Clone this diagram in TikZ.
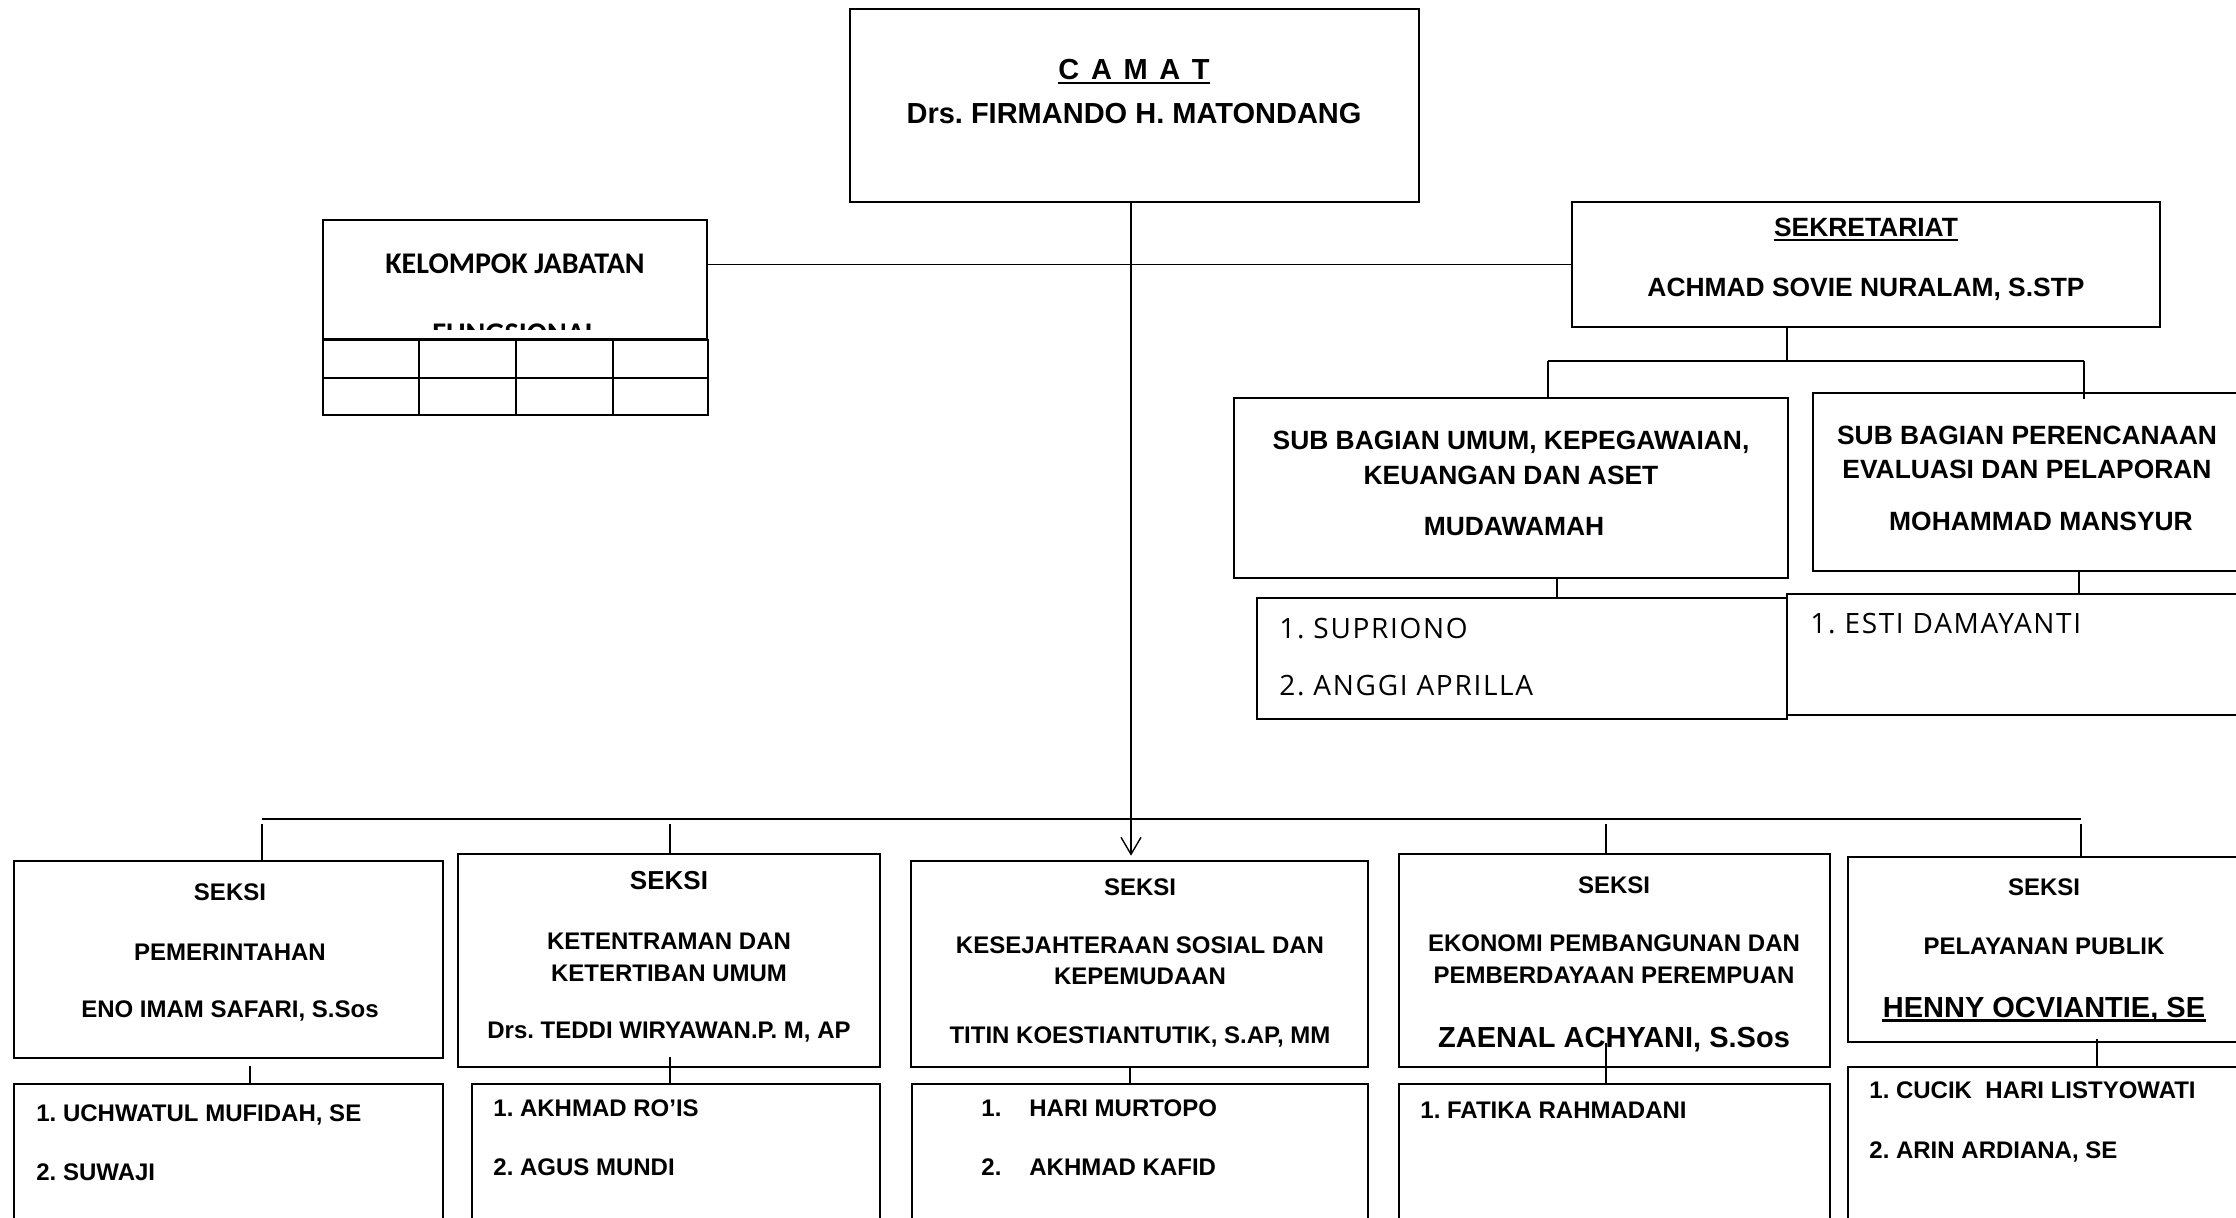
\documentclass[tikz,border=0pt]{standalone}
\usepackage{fontspec}
\usetikzlibrary{calc}
\usetikzlibrary{arrows.meta}
\newfontfamily\arial{Liberation Sans}
\newfontfamily\calib{Carlito}
\newfontfamily\opsans[LetterSpace=6]{Open Sans}
\newcommand{\fsz}[1]{\fontsize{#1}{#1}\selectfont}
\frenchspacing

\begin{document}
\begin{tikzpicture}[x=0.5pt, y=-0.5pt,
  box/.style={draw, line width=1.35pt, inner sep=0pt},
  con/.style={line width=0.7pt},
  lbl/.style={inner sep=0pt, anchor=base, font=\arial\bfseries\fsz{12pt}},
  lft/.style={lbl, anchor=base west},
  big/.style={font=\arial\bfseries\fsz{14.5pt}},
  sub/.style={font=\arial\bfseries\fsz{13.2pt}},
  nama/.style={inner sep=0pt, anchor=base west, font=\opsans\fsz{14pt}}]
\useasboundingbox (0,0) rectangle (2236,1217);

\foreach \n/\xa/\ya/\xb/\yb in {camat/850/9/1419/202, kel/323/220/707/339, sek/1572/202/2160/327,
  umum/1234/398/1788/578, ren/1813/393/2260/571, st1/1257/598/1787/719, st2/1787/594/2260/715,
  sk1/14/861/443/1058, sk2/458/854/880/1067, sk3/911/861/1368/1067, sk4/1399/854/1830/1067, sk5/1848/857/2260/1042,
  s1/14/1084/443/1240, s2/472/1084/880/1240, s3/912/1084/1368/1240, s4/1399/1084/1830/1240, s5/1848/1067/2260/1240}
  \node[box, minimum width={(\xb-\xa)*0.5pt}, minimum height={(\yb-\ya)*0.5pt}] (\n) at ({(\xa+\xb)/2},{(\ya+\yb)/2}) {};

\draw[line width=1.35pt] (323,340) rectangle (708,415);
\draw[line width=1.35pt] (323,378) -- (708,378);
\foreach \c in {419,516,613}
  \draw[line width=1.35pt] (\c,340) -- (\c,415);

\node[lbl, big] (tcam) at (1134,79) {C\kern5.8pt A\kern5.8pt M\kern5.8pt A\kern5.8pt T};
\draw[line width=1pt] ([yshift=-2pt]tcam.base west) -- ([yshift=-2pt]tcam.base east);
\node[lbl, big] (tcam2) at (1134,123) {Drs. FIRMANDO H. MATONDANG};

\node[lbl, font=\calib\bfseries\fsz{15pt}] (tkel) at (515,273) {KELOMPOK JABATAN};
\begin{scope}
\clip (323,220) rectangle (707,329);
\node[lbl, font=\calib\bfseries\fsz{15pt}] (tfung) at (515,343) {FUNGSIONAL};
\end{scope}
\draw[con] (kel.east |- sek.west) -- (sek.west);

\node[lbl, sub] (tsek) at (1866,236.5) {SEKRETARIAT};
\draw[line width=1pt] ([yshift=-1.5pt]tsek.base west) -- ([yshift=-1.5pt]tsek.base east);
\node[lbl, sub] (tsek2) at (1866,296.5) {ACHMAD SOVIE NURALAM, S.STP};

\coordinate (sb) at (1787,361);
\coordinate (sbl) at (1548,361);
\coordinate (sbr) at (2084,361);
\draw[con] (sek.south -| sb) -- (sb);
\draw[con] (sbl) -- (sbr);
\draw[con] (sbl) -- (sbl |- umum.north);
\draw[con] (sbr) -- ($(sbr |- ren.north)+(0,7)$);

\node[lbl, sub] (tum1) at (1511,449.5) {SUB BAGIAN UMUM, KEPEGAWAIAN,};
\node[lbl, sub] (tum2) at (1511,484.5) {KEUANGAN DAN ASET};
\node[lbl, sub] (tum3) at (1514,535.5) {MUDAWAMAH};
\node[lbl, sub] (tren1) at (2027,444.5) {SUB BAGIAN PERENCANAAN};
\node[lbl, sub] (tren2) at (2027,478.5) {EVALUASI DAN PELAPORAN};
\node[lbl, sub] (tren3) at (2041,530.5) {MOHAMMAD MANSYUR};

\coordinate (d1) at (1557,0);
\coordinate (d2) at (2079,0);
\draw[con] (umum.south -| d1) -- (st1.north -| d1);
\draw[con] (ren.south -| d2) -- (st2.north -| d2);

\node[nama] (n1) at (1279,638) {1. SUPRIONO};
\node[nama] (n2) at (1279,695) {2. ANGGI APRILLA};
\node[nama] (n3) at (1810,633) {1. ESTI DAMAYANTI};

\coordinate (bl) at (262,819);
\coordinate (br) at (2081,819);
\draw[line width=1pt] (bl) -- (br);
\foreach \b/\x in {sk1/262, sk2/670, sk4/1606, sk5/2081}{
  \coordinate (tmp) at (\x,824);
  \draw[con] (tmp) -- (tmp |- \b.north);
}
\coordinate (ax) at (1131,0);
\draw[con, -{Straight Barb[length=8.5pt,width=10pt]}] (camat.south -| ax) -- ($(sk3.north -| ax)+(0,-4)$);
\foreach \b/\x/\y in {s1/250/1066, s2/670/1057, s3/1130/1067, s4/1606/1043, s5/2097/1039}{
  \coordinate (tmp) at (\x,\y);
  \draw[con] (tmp) -- (tmp |- \b.north);
}

\node[lbl] (ta1) at (230,900.6) {SEKSI};
\node[lbl] (ta2) at (230,960.6) {PEMERINTAHAN};
\node[lbl] (ta3) at (230,1017.6) {ENO IMAM SAFARI, S.Sos};
\node[lbl, font=\arial\bfseries\fsz{13pt}] (tb1) at (669,889.3) {SEKSI};
\node[lbl] (tb2) at (669,949.6) {KETENTRAMAN DAN};
\node[lbl] (tb3) at (669,981.6) {KETERTIBAN UMUM};
\node[lbl] (tb4) at (669,1038.6) {Drs. TEDDI WIRYAWAN.P. M, AP};
\node[lbl] (tc1) at (1140,895.6) {SEKSI};
\node[lbl] (tc2) at (1140,953.6) {KESEJAHTERAAN SOSIAL DAN};
\node[lbl] (tc3) at (1140,984.6) {KEPEMUDAAN};
\node[lbl] (tc4) at (1140,1043.6) {TITIN KOESTIANTUTIK, S.AP, MM};
\node[lbl] (td1) at (1614,893.6) {SEKSI};
\node[lbl] (td2) at (1614,951.6) {EKONOMI PEMBANGUNAN DAN};
\node[lbl] (td3) at (1614,983.6) {PEMBERDAYAAN PEREMPUAN};
\node[lbl, big] (td4) at (1614,1047.4) {ZAENAL ACHYANI, S.Sos};
\node[lbl] (te1) at (2044,895.6) {SEKSI};
\node[lbl] (te2) at (2044,954.6) {PELAYANAN PUBLIK};
\node[lbl, big] (te3) at (2044,1017.4) {HENNY OCVIANTIE, SE};
\draw[line width=1.2pt] ([yshift=-1.6pt]te3.base west) -- ([yshift=-1.6pt]te3.base east);

\node[lft] (pa1) at (36,1121.6) {1. UCHWATUL MUFIDAH, SE};
\node[lft] (pa2) at (36,1180.6) {2. SUWAJI};
\node[lft] (pb1) at (493,1116.6) {1. AKHMAD RO’IS};
\node[lft] (pb2) at (493,1175.6) {2. AGUS MUNDI};
\node[lft] (pc1) at (981,1116.6) {1.\hspace{14pt}HARI MURTOPO};
\node[lft] (pc2) at (981,1175.6) {2.\hspace{14pt}AKHMAD KAFID};
\node[lft] (pd1) at (1420,1118.6) {1. FATIKA RAHMADANI};
\node[lft] (pe1) at (1869,1098.6) {1. CUCIK\ \ HARI LISTYOWATI};
\node[lft] (pe2) at (1869,1158.6) {2. ARIN ARDIANA, SE};
\end{tikzpicture}
\end{document}
